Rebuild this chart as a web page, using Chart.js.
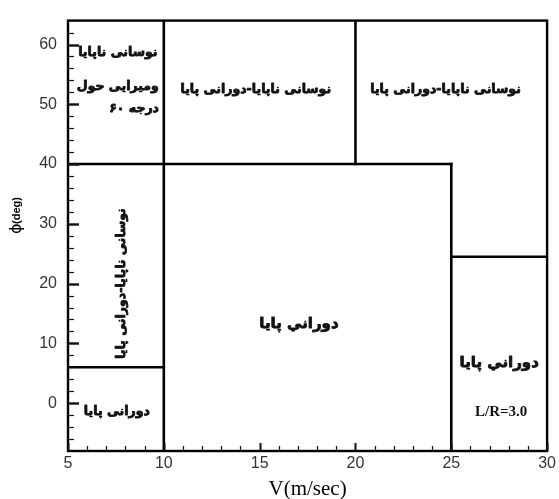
<!DOCTYPE html>
<html>
<head>
<meta charset="utf-8">
<script src="https://cdn.jsdelivr.net/npm/chart.js@4/dist/chart.umd.min.js"></script>
<style>
  html, body { margin: 0; padding: 0; background: #fff; }
  #wrap { width: 559px; height: 499px; }
</style>
</head>
<body>
<div id="wrap"><canvas id="c" width="559" height="499"></canvas></div>
<script>
// Axis ranges and tick labels
const xRange = [5, 30];
const yRange = [-8, 64];
const xTicks = [5, 10, 15, 20, 25, 30];
const yTicks = [0, 10, 20, 30, 40, 50, 60];

// Regime boundaries: vertical segments (x, from y, to y)
const vLineX = [10, 20, 25];
const vLineFrom = [-8, 40, -8];
const vLineTo = [64, 64, 40];

// Regime boundaries: horizontal segments (y, from x, to x)
const hLineY = [40, 6, 24.5];
const hLineFrom = [5, 5, 25];
const hLineTo = [25, 10, 30];

// Regime names and where they sit (in axis units)
const regionText = [
  'نوسانی ناپایا',
  'ومیرایی حول',
  'درجه ۶۰',
  'نوسانی ناپایا-دورانی پایا',
  'نوسانی ناپایا-دورانی پایا',
  'نوسانی ناپایا-دورانی پایا',
  'دورانی پایا',
  'دوراني پايا',
  'دوراني پايا',
  'L/R=3.0'
];
const regionX = [7.6, 7.6, 9.75, 14.8, 24.7, 7.8, 7.55, 17.05, 27.5, 27.6];
const regionY = [58.7, 53.0, 49.2, 52.5, 52.5, 20, -1.5, 13.3, 6.7, -1.5];

const datasets = [];
vLineX.forEach((x, i) => datasets.push({
  data: [{ x: x, y: vLineFrom[i] }, { x: x, y: vLineTo[i] }]
}));
hLineY.forEach((y, i) => datasets.push({
  data: [{ x: hLineFrom[i], y: y }, { x: hLineTo[i], y: y }]
}));
datasets.forEach(d => Object.assign(d, {
  showLine: true, borderColor: '#000', borderWidth: 2.6,
  pointRadius: 0, fill: false, tension: 0, borderCapStyle: 'square'
}));

const faFont = 'bold 12.5px "DejaVu Sans"';
const faBig = 'bold 15px "DejaVu Sans"';
const labelStyle = [
  { font: faFont, align: 'center', rtl: true },
  { font: faFont, align: 'center', rtl: true },
  { font: faFont, align: 'right', rtl: true },
  { font: faFont, align: 'center', rtl: true },
  { font: faFont, align: 'center', rtl: true },
  { font: faFont, align: 'center', rtl: true, rotate: true },
  { font: faFont, align: 'center', rtl: true },
  { font: faBig, align: 'center', rtl: true },
  { font: faBig, align: 'center', rtl: true },
  { font: 'bold 15px "Liberation Serif"', align: 'center', rtl: false }
];

function heavyText(ctx, t, x, y, rtl) {
  ctx.direction = rtl ? 'rtl' : 'ltr';
  if (rtl) {
    ctx.lineWidth = 0.8;
    ctx.lineJoin = 'round';
    ctx.strokeStyle = ctx.fillStyle;
    ctx.strokeText(t, x, y);
  }
  ctx.fillText(t, x, y);
}

const decor = {
  id: 'decor',
  afterDatasetsDraw(chart) {
    const { ctx, chartArea: a, scales: { x, y } } = chart;
    ctx.save();
    // frame
    ctx.strokeStyle = '#000';
    ctx.lineWidth = 2.4;
    ctx.strokeRect(a.left, a.top, a.right - a.left, a.bottom - a.top);
    // inward ticks on the bottom axis
    ctx.strokeStyle = '#111';
    for (let v = xRange[0]; v <= xRange[1]; v += 1) {
      const px = Math.round(x.getPixelForValue(v)) + 0.5;
      const len = v % 5 === 0 ? 8 : 5;
      ctx.lineWidth = v % 5 === 0 ? 2 : 1.2;
      ctx.beginPath(); ctx.moveTo(px, a.bottom); ctx.lineTo(px, a.bottom - len); ctx.stroke();
    }
    // inward ticks on the left axis
    for (let v = -6; v <= 62; v += 2) {
      const py = Math.round(y.getPixelForValue(v)) + 0.5;
      const major = v % 10 === 0;
      ctx.lineWidth = major ? 2.4 : 1.2;
      ctx.beginPath(); ctx.moveTo(a.left, py); ctx.lineTo(a.left + (major ? 11 : 6), py); ctx.stroke();
    }
    // regime names
    ctx.fillStyle = '#111';
    ctx.textBaseline = 'middle';
    regionText.forEach((t, i) => {
      const s = labelStyle[i];
      const px = x.getPixelForValue(regionX[i]);
      const py = y.getPixelForValue(regionY[i]);
      ctx.font = s.font;
      ctx.textAlign = s.align;
      if (s.rotate) {
        ctx.save();
        ctx.translate(px, py);
        ctx.rotate(-Math.PI / 2);
        heavyText(ctx, t, 0, 0, s.rtl);
        ctx.restore();
      } else {
        heavyText(ctx, t, px, py, s.rtl);
      }
    });
    // axis titles
    ctx.direction = 'ltr';
    ctx.fillStyle = '#000';
    ctx.textAlign = 'center';
    ctx.font = '21px "Liberation Serif"';
    ctx.fillText('V(m/sec)', (a.left + a.right) / 2, 489);
    ctx.save();
    ctx.translate(17, 213);
    ctx.rotate(-Math.PI / 2);
    ctx.textAlign = 'left';
    ctx.font = '16px "DejaVu Sans"';
    ctx.fillText('ϕ', -21, 0);
    ctx.font = 'bold 11px "Liberation Sans"';
    ctx.fillText('(deg)', -11, 0);
    ctx.restore();
    ctx.restore();
  }
};

new Chart(document.getElementById('c'), {
  type: 'scatter',
  data: { datasets },
  options: {
    responsive: false,
    animation: false,
    events: [],
    layout: { padding: { top: 13, right: 10, left: 0, bottom: 0 } },
    plugins: { legend: { display: false }, tooltip: { enabled: false } },
    scales: {
      x: {
        type: 'linear', min: xRange[0], max: xRange[1],
        afterBuildTicks: s => { s.ticks = xTicks.map(v => ({ value: v })); },
        afterFit: s => { s.height = 48; },
        grid: { drawOnChartArea: false, drawTicks: false },
        border: { display: false },
        ticks: { padding: 3, color: '#333', maxRotation: 0,
          font: { family: '"Liberation Sans"', size: 16 } }
      },
      y: {
        type: 'linear', min: yRange[0], max: yRange[1],
        afterBuildTicks: s => { s.ticks = yTicks.map(v => ({ value: v })); },
        afterFit: s => { s.width = 68; },
        grid: { drawOnChartArea: false, drawTicks: false },
        border: { display: false },
        ticks: { padding: 11, color: '#333',
          font: { family: '"Liberation Sans"', size: 16 } }
      }
    }
  },
  plugins: [decor]
});
</script>
</body>
</html>
